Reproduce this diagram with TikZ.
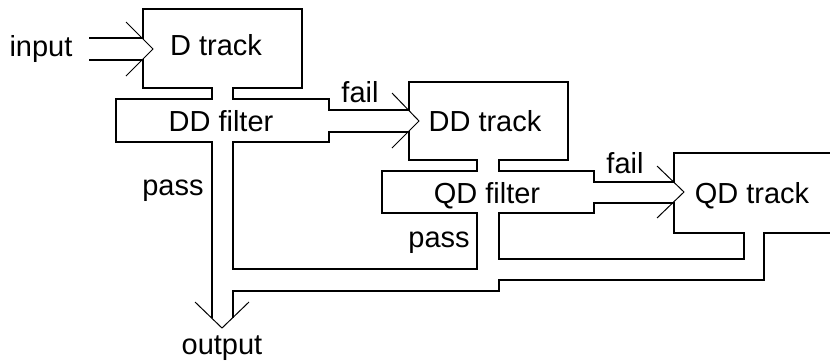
\documentclass[tikz,border=0pt]{standalone}
\usepackage{fontspec}
\setmainfont{Liberation Sans}
\usepackage{tikz}

\tikzset{
  wall/.style={line width=1.2pt},
  chev/.style={line width=0.5pt},
  lbl/.style={anchor=base, inner sep=0pt, font=\fontsize{14.5}{17}\selectfont}
}

\begin{document}
\begin{tikzpicture}[x=0.5pt, y=-0.5pt]
\useasboundingbox (0,0) rectangle (830,360);
% tips of the chevrons
\coordinate [] (IN) at (153,49);
\coordinate [] (DDT) at (419,121);
\coordinate [] (QDT) at (684,192);
\coordinate [] (OUT) at (222,328);
% walls
\draw[wall] (89,38) -- (143,38) -- (143,9) -- (302,9) -- (302,88) -- (233,88) -- (233,99) -- (329,99) -- (329,110) -- (409,110) -- (409,82) -- (568,82) -- (568,160) -- (499,160) -- (499,171) -- (594,171) -- (594,182) -- (674,182) -- (674,153) -- (830,153);
\draw[wall] (89,60) -- (143,60) -- (143,88) -- (212,88) -- (212,99) -- (116,99) -- (116,142) -- (212,142) -- (212,318);
\draw[wall] (409,160) -- (477,160) -- (477,171) -- (382,171) -- (382,213) -- (477,213) -- (477,269) -- (233,269) -- (233,142) -- (329,142) -- (329,132) -- (409,132) -- cycle;
\draw[wall] (499,213) -- (594,213) -- (594,203) -- (674,203) -- (674,233) -- (744,233) -- (744,259) -- (499,259) -- cycle;
\draw[wall] (233,318) -- (233,291) -- (499,291) -- (499,280) -- (764,280) -- (764,233) -- (830,233);
% chevrons
\draw[chev] (IN) ++(-27,-27) -- (IN) -- ++(-27,27);
\draw[chev] (DDT) ++(-27,-28) -- (DDT) -- ++(-27,27);
\draw[chev] (QDT) ++(-27,-26) -- (QDT) -- ++(-27,26);
\draw[chev] (OUT) ++(-27,-26) -- (OUT) -- ++(27,-26);
% labels
\node[lbl] (input) at (41,56) {input};
\node[lbl] (dtrack) at (216,55) {D track};
\node[lbl] (ddfilter) at (221,131) {DD filter};
\node[lbl] (ddfail) at (360,102) {fail};
\node[lbl] (ddtrack) at (485,131) {DD track};
\node[lbl] (ddpass) at (173,195) {pass};
\node[lbl] (qdfilter) at (487,203) {QD filter};
\node[lbl] (qdfail) at (625,173) {fail};
\node[lbl] (qdtrack) at (752,203) {QD track};
\node[lbl] (qdpass) at (439,247) {pass};
\node[lbl] (output) at (222,354) {output};
\end{tikzpicture}
\end{document}
